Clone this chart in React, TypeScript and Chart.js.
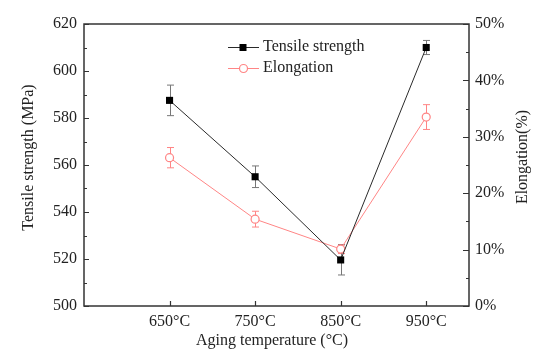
import React, { useEffect, useRef } from 'react';
import { Chart, registerables } from 'chart.js';

Chart.register(...registerables);

const temperatures = [650, 750, 850, 950];
const tempLabels = ['650°C', '750°C', '850°C', '950°C'];
const tensileStrength = [587.5, 555, 519.6, 610];
const tensileError = [6.5, 4.6, 6.4, 3];
const elongation = [26.3, 15.4, 10.1, 33.5];
const elongationError = [1.8, 1.4, 0.8, 2.2];
const leftMinorStep = 10;
const rightMinorStep = 5;

const FONT = "'Liberation Serif', 'Times New Roman', serif";
const TEXT = '#222';
const AXIS = '#333';
const TENSILE_COLOR = '#2a2a2a';
const TENSILE_ERR = '#777';
const ELONG_COLOR = '#ff8585';

Chart.defaults.font.family = FONT;
Chart.defaults.font.size = 16;
Chart.defaults.color = TEXT;

const decorPlugin = {
  id: 'decor',
  beforeDatasetsDraw(chart: any) {
    const ctx = chart.ctx;
    const xs = chart.scales.x;
    const drawErr = (vals: number[], errs: number[], scale: any, color: string) => {
      ctx.save();
      ctx.strokeStyle = color;
      ctx.lineWidth = 1;
      vals.forEach((v, i) => {
        const px = Math.round(xs.getPixelForValue(temperatures[i])) + 0.5;
        const top = scale.getPixelForValue(v + errs[i]);
        const bot = scale.getPixelForValue(v - errs[i]);
        ctx.beginPath();
        ctx.moveTo(px, top);
        ctx.lineTo(px, bot);
        ctx.moveTo(px - 3.5, top);
        ctx.lineTo(px + 3.5, top);
        ctx.moveTo(px - 3.5, bot);
        ctx.lineTo(px + 3.5, bot);
        ctx.stroke();
      });
      ctx.restore();
    };
    drawErr(elongation, elongationError, chart.scales.y1, ELONG_COLOR);
    drawErr(tensileStrength, tensileError, chart.scales.y, TENSILE_ERR);
  },
  afterDraw(chart: any) {
    const ctx = chart.ctx;
    const { left, right, top, bottom } = chart.chartArea;
    const xs = chart.scales.x;
    const ys = chart.scales.y;
    const y1 = chart.scales.y1;
    ctx.save();
    // frame
    ctx.strokeStyle = AXIS;
    ctx.lineWidth = 1.5;
    ctx.strokeRect(left, top, right - left, bottom - top);
    ctx.lineWidth = 1.2;
    ctx.beginPath();
    // bottom ticks
    temperatures.forEach((t) => {
      const px = Math.round(xs.getPixelForValue(t)) + 0.5;
      ctx.moveTo(px, bottom);
      ctx.lineTo(px, bottom - 5);
    });
    // left ticks
    for (let v = ys.min; v <= ys.max + 1e-6; v += leftMinorStep) {
      const py = Math.round(ys.getPixelForValue(v)) + 0.5;
      const major = Math.round((v - ys.min) / leftMinorStep) % 2 === 0;
      ctx.moveTo(left, py);
      ctx.lineTo(left + (major ? 5 : 3), py);
    }
    // right ticks
    for (let v = y1.min; v <= y1.max + 1e-6; v += rightMinorStep) {
      const py = Math.round(y1.getPixelForValue(v)) + 0.5;
      const major = Math.round((v - y1.min) / rightMinorStep) % 2 === 0;
      ctx.moveTo(right, py);
      ctx.lineTo(right - (major ? 6 : 3), py);
    }
    ctx.stroke();

    // titles
    ctx.fillStyle = TEXT;
    ctx.font = `16px ${FONT}`;
    ctx.textAlign = 'center';
    ctx.textBaseline = 'middle';
    ctx.fillText('Aging temperature (°C)', 272, 340.5);
    ctx.save();
    ctx.translate(29, 157.5);
    ctx.rotate(-Math.PI / 2);
    ctx.fillText('Tensile strength (MPa)', 0, 0);
    ctx.restore();
    ctx.save();
    ctx.translate(523, 157);
    ctx.rotate(-Math.PI / 2);
    ctx.fillText('Elongation(%)', 0, 0);
    ctx.restore();

    // legend
    const ds = chart.data.datasets;
    const rows = [
      { y: 47, color: TENSILE_COLOR, label: ds[0].label, square: true },
      { y: 68, color: ELONG_COLOR, label: ds[1].label, square: false },
    ];
    rows.forEach((r) => {
      ctx.strokeStyle = r.color;
      ctx.lineWidth = 1;
      ctx.beginPath();
      ctx.moveTo(228, r.y + 0.5);
      ctx.lineTo(259, r.y + 0.5);
      ctx.stroke();
      if (r.square) {
        ctx.fillStyle = '#000';
        ctx.fillRect(243 - 3.5, r.y - 3, 7, 7);
      } else {
        ctx.fillStyle = '#fff';
        ctx.beginPath();
        ctx.arc(243.5, r.y + 0.5, 4, 0, Math.PI * 2);
        ctx.fill();
        ctx.lineWidth = 1.2;
        ctx.stroke();
      }
      ctx.fillStyle = TEXT;
      ctx.textAlign = 'left';
      ctx.textBaseline = 'middle';
      ctx.font = `16px ${FONT}`;
      ctx.fillText(r.label, 263, r.y);
    });
    ctx.restore();
  },
};

const tickFont = { family: FONT, size: 16 };

export default function App() {
  const ref = useRef<HTMLCanvasElement>(null);
  useEffect(() => {
    if (!ref.current) return;
    const chart = new Chart(ref.current, {
      type: 'line',
      data: {
        datasets: [
          {
            label: 'Tensile strength',
            data: temperatures.map((t, i) => ({ x: t, y: tensileStrength[i] })),
            yAxisID: 'y',
            borderColor: TENSILE_COLOR,
            borderWidth: 1,
            pointStyle: 'rect',
            pointRadius: 5,
            pointBackgroundColor: '#000',
            pointBorderColor: '#000',
            pointBorderWidth: 0,
            order: 0,
          },
          {
            label: 'Elongation',
            data: temperatures.map((t, i) => ({ x: t, y: elongation[i] })),
            yAxisID: 'y1',
            borderColor: ELONG_COLOR,
            borderWidth: 1,
            pointStyle: 'circle',
            pointRadius: 4,
            pointBackgroundColor: '#fff',
            pointBorderColor: ELONG_COLOR,
            pointBorderWidth: 1.2,
            order: 1,
          },
        ],
      },
      options: {
        responsive: false,
        animation: false,
        devicePixelRatio: 1,
        layout: { padding: { top: 24, left: 0, right: 0, bottom: 0 } },
        plugins: { legend: { display: false }, tooltip: { enabled: false } },
        scales: {
          x: {
            type: 'linear',
            min: 550,
            max: 1000,
            grid: { display: false, drawTicks: false },
            border: { display: false },
            afterBuildTicks: (s: any) => {
              s.ticks = temperatures.map((v) => ({ value: v }));
            },
            afterFit: (s: any) => {
              s.height = 51;
            },
            ticks: {
              padding: 6,
              color: TEXT,
              font: tickFont,
              maxRotation: 0,
              autoSkip: false,
              callback: (v: any) => tempLabels[temperatures.indexOf(Number(v))] ?? '',
            },
          },
          y: {
            position: 'left',
            min: 500,
            max: 620,
            grid: { display: false, drawTicks: false },
            border: { display: false },
            afterFit: (s: any) => {
              s.width = 84;
            },
            ticks: {
              stepSize: 20,
              padding: 7,
              color: TEXT,
              font: tickFont,
            },
          },
          y1: {
            position: 'right',
            min: 0,
            max: 50,
            grid: { display: false, drawTicks: false },
            border: { display: false },
            afterFit: (s: any) => {
              s.width = 81;
            },
            ticks: {
              stepSize: 10,
              padding: 6,
              color: TEXT,
              font: tickFont,
              callback: (v: any) => `${v}%`,
            },
          },
        },
      },
      plugins: [decorPlugin],
    });
    return () => chart.destroy();
  }, []);
  return (
    <div style={{ position: 'absolute', left: 0, top: 0, width: 550, height: 357, background: '#fff' }}>
      <canvas ref={ref} width={550} height={357} />
    </div>
  );
}
